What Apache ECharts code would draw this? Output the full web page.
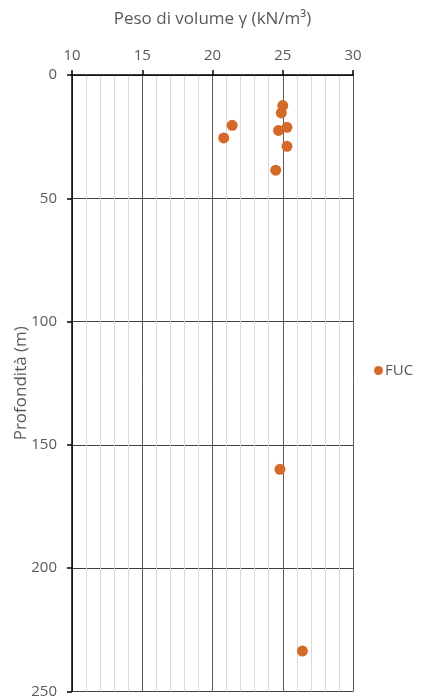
<!DOCTYPE html>
<html><head><meta charset="utf-8">
<script src="https://cdn.jsdelivr.net/npm/echarts@6/dist/echarts.min.js"></script>
<style>html,body{margin:0;padding:0;background:#fff}#c{width:421px;height:699px}</style>
</head><body><div id="c"></div>
<script>
const seriesName = "FUC";
const pesoVolume = [25.0, 24.9, 21.4, 20.8, 25.3, 24.7, 25.3, 24.5, 24.8, 26.4];
const profondita = [12.4, 15.4, 20.4, 25.5, 21.2, 22.5, 28.9, 38.6, 159.9, 233.6];
const xTitle = "Peso di volume γ (kN/m³)";
const yTitle = "Profondità (m)";

const font = "'Open Sans','Noto Sans',sans-serif";
const txt = '#595959';
const chart = echarts.init(document.getElementById('c'));
chart.setOption({
  animation: false,
  grid: {left: 72, top: 75, right: 68, bottom: 5, containLabel: false},
  xAxis: {
    type: 'value', position: 'top', min: 10, max: 30, interval: 5,
    name: xTitle, nameLocation: 'middle', nameGap: 47, nameMoveOverlap: false,
    nameTextStyle: {color: txt, fontSize: 17, fontFamily: font},
    axisLine: {show: true, onZero: false, lineStyle: {color: '#000', width: 1.5}},
    axisTick: {show: true, length: 5, lineStyle: {color: '#000', width: 1.5}},
    axisLabel: {color: txt, fontSize: 15, fontFamily: font, margin: 12},
    splitLine: {show: true, lineStyle: {color: '#5a5a5a', width: 1}},
    minorTick: {show: false, splitNumber: 5},
    minorSplitLine: {show: true, lineStyle: {color: '#d9d9d9', width: 1}}
  },
  yAxis: {
    type: 'value', inverse: true, min: 0, max: 250, interval: 50,
    name: yTitle, nameLocation: 'middle', nameGap: 42, nameMoveOverlap: false,
    nameTextStyle: {color: txt, fontSize: 17, fontFamily: font},
    axisLine: {show: true, onZero: false, lineStyle: {color: '#000', width: 1.5}},
    axisTick: {show: true, length: 5, lineStyle: {color: '#000', width: 1.5}},
    axisLabel: {color: txt, fontSize: 15, fontFamily: font, margin: 15},
    splitLine: {show: true, lineStyle: {color: '#404040', width: 1}}
  },
  legend: {
    show: true, orient: 'vertical', left: 369, top: 358,
    itemWidth: 9, itemHeight: 9, itemGap: 4,
    textStyle: {color: txt, fontSize: 15, fontFamily: font, padding: [0,0,0,-3]},
    data: [{name: seriesName, icon: 'circle'}]
  },
  series: [{
    name: seriesName, type: 'scatter', symbol: 'circle', symbolSize: 11,
    itemStyle: {color: '#D5692A', opacity: 1},
    data: pesoVolume.map((v, i) => [v, profondita[i]])
  }]
});
</script></body></html>
